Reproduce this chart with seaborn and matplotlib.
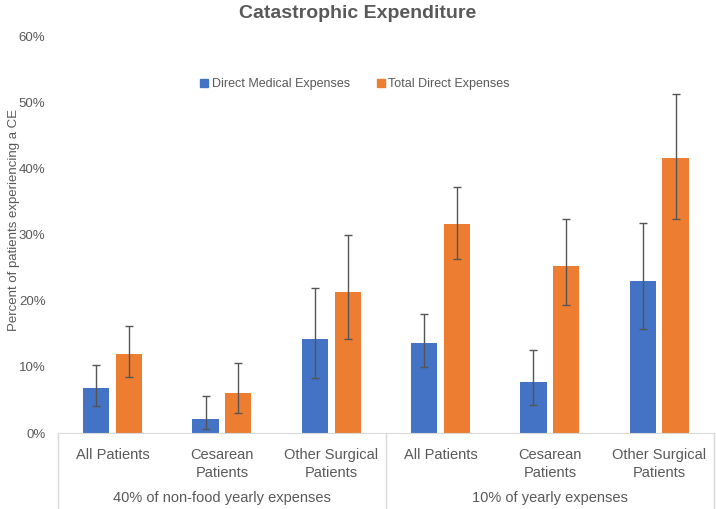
import numpy as np
import pandas as pd
import seaborn as sns
import matplotlib.pyplot as plt
from matplotlib.lines import Line2D

# categories and group labels
categories = ['All Patients', 'Cesarean\nPatients', 'Other Surgical\nPatients',
              'All Patients', 'Cesarean\nPatients', 'Other Surgical\nPatients']
groups = ['40% of non-food yearly expenses', '10% of yearly expenses']
series = ['Direct Medical Expenses', 'Total Direct Expenses']

# percent values
medical = [6.8, 2.2, 14.2, 13.6, 7.8, 23.0]
medical_lo = [4.1, 0.6, 8.4, 10.0, 4.3, 15.7]
medical_hi = [10.3, 5.6, 22.0, 18.0, 12.6, 31.8]
total = [11.9, 6.0, 21.3, 31.6, 25.3, 41.6]
total_lo = [8.5, 3.0, 14.2, 26.3, 19.3, 32.4]
total_hi = [16.2, 10.6, 29.9, 37.2, 32.3, 51.3]

colors = ['#4472C4', '#ED7D31']
grey = '#595959'

df = pd.DataFrame({
    'pos': list(range(6)) * 2,
    'series': [series[0]] * 6 + [series[1]] * 6,
    'value': [v / 100 for v in medical + total],
})

plt.rcParams['font.family'] = ['Liberation Sans', 'DejaVu Sans']
fig = plt.figure(figsize=(7.16, 5.09), dpi=100)
ax = fig.add_axes([0.081, 0.149, 0.916, 0.78])

sns.barplot(data=df, x='pos', y='value', hue='series', palette=colors,
            width=0.6, gap=0.2, saturation=1, ax=ax, legend=False)

# error bars at bar centres
lows = [medical_lo, total_lo]
highs = [medical_hi, total_hi]
vals = [medical, total]
bar_containers = list(ax.containers)
for k, cont in enumerate(bar_containers):
    xs = [p.get_x() + p.get_width() / 2 for p in cont.patches]
    v = np.array(vals[k]) / 100
    lo = v - np.array(lows[k]) / 100
    hi = np.array(highs[k]) / 100 - v
    ax.errorbar(xs, v, yerr=[lo, hi], fmt='none', ecolor='#555555',
                elinewidth=1, capsize=3, capthick=1)

ax.set_xlim(-0.5, 5.5)
ax.set_ylim(0, 0.6)
ax.set_yticks(np.arange(0, 0.61, 0.1))
ax.set_yticklabels([f'{int(round(t * 100))}%' for t in np.arange(0, 0.61, 0.1)])
ax.set_xticks(range(6))
ax.set_xticklabels(categories, fontsize=10.5, color=grey, linespacing=1.35)
ax.tick_params(axis='y', length=0, labelsize=9.5, labelcolor=grey, pad=9)
ax.tick_params(axis='x', length=0, pad=11)
ax.set_xlabel('')
ax.set_ylabel('Percent of patients experiencing a CE', fontsize=9.5, color=grey)
ax.yaxis.set_label_coords(-0.058, 0.536)

for s in ['top', 'right', 'left']:
    ax.spines[s].set_visible(False)
ax.spines['bottom'].set_color('#D9D9D9')

# multi-level category separators and group labels
tr = ax.get_xaxis_transform()
for xv in [-0.5, 2.5, 5.5]:
    ax.add_line(Line2D([xv, xv], [0, -0.2], transform=tr, color='#D9D9D9',
                       lw=1, clip_on=False))
for g, xc in zip(groups, [1, 4]):
    ax.text(xc, -0.164, g, transform=tr, ha='center', va='center',
            fontsize=10.5, color=grey)

# legend
handles = [plt.Rectangle((0, 0), 1, 1, color=c) for c in colors]
ax.legend(handles, series, loc='center', bbox_to_anchor=(0.453, 0.879),
          ncol=2, frameon=False, fontsize=9, labelcolor=grey,
          handlelength=0.6, handleheight=0.6, handletextpad=0.3, columnspacing=2.2)

fig.suptitle('Catastrophic Expenditure', x=0.5, y=0.99, fontsize=14,
             fontweight='bold', color=grey)

plt.savefig('out.png', dpi=100)
